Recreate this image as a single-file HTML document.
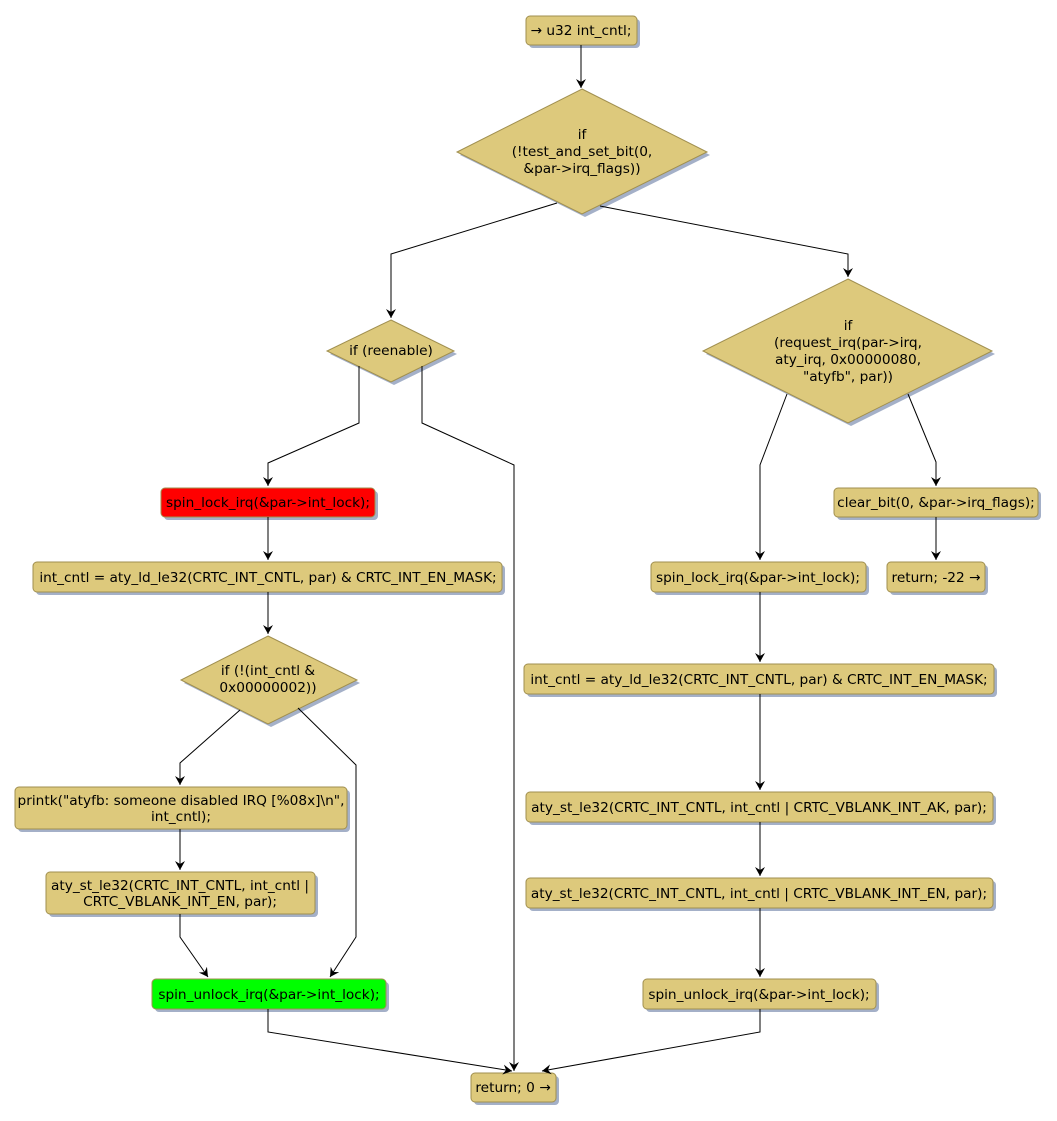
<!DOCTYPE html>
<html><head><meta charset="utf-8"><style>
body{margin:0;background:#fff;}
svg{display:block;}
text{font-family:"DejaVu Sans","Liberation Sans",sans-serif;font-size:13.7px;fill:#000;text-anchor:middle;}
.n{fill:#DDC97C;stroke:#A08F4F;stroke-width:1;}
.s{fill:#A4B0C8;}
.e{fill:none;stroke:#000;stroke-width:1;}
</style></head><body>
<svg width="1057" height="1121" viewBox="0 0 1057 1121">
<defs><marker id="a" markerWidth="10" markerHeight="10" refX="9" refY="5" orient="auto" markerUnits="userSpaceOnUse"><path d="M0,0 L9,5 L0,10 L3,5 z" fill="#000"/></marker></defs>
<g id="shadows">
<rect class="s" x="529" y="19" width="111" height="29" rx="4"/>
<polygon class="s" points="585,92 710,155 585,217 460,155"/>
<polygon class="s" points="394,323 457,354 394,385 330,354"/>
<polygon class="s" points="851,282 995,354 851,426 706,354"/>
<rect class="s" x="164" y="491" width="214" height="29" rx="4"/>
<rect class="s" x="36" y="565" width="469" height="30" rx="4"/>
<polygon class="s" points="271,639 360,683 271,727 184,683"/>
<rect class="s" x="18" y="790" width="332" height="42" rx="4"/>
<rect class="s" x="49" y="875" width="269" height="42" rx="4"/>
<rect class="s" x="155" y="982" width="234" height="30" rx="4"/>
<rect class="s" x="474" y="1076" width="85" height="29" rx="4"/>
<rect class="s" x="837" y="491" width="204" height="29" rx="4"/>
<rect class="s" x="890" y="565" width="98" height="30" rx="4"/>
<rect class="s" x="654" y="565" width="215" height="30" rx="4"/>
<rect class="s" x="527" y="667" width="470" height="30" rx="4"/>
<rect class="s" x="529" y="795" width="467" height="30" rx="4"/>
<rect class="s" x="529" y="881" width="467" height="30" rx="4"/>
<rect class="s" x="646" y="982" width="233" height="30" rx="4"/>
</g>
<g>
<rect class="n" x="526" y="16" width="111" height="29" rx="4"/>
<polygon class="n" points="582,89 707,152 582,214 457,152"/>
<polygon class="n" points="391,320 454,351 391,382 327,351"/>
<polygon class="n" points="848,279 992,351 848,423 703,351"/>
<rect x="161" y="488" width="214" height="29" rx="4" fill="#FF0000" stroke="#A08F4F"/>
<rect class="n" x="33" y="562" width="469" height="30" rx="4"/>
<polygon class="n" points="268,636 357,680 268,724 181,680"/>
<rect class="n" x="15" y="787" width="332" height="42" rx="4"/>
<rect class="n" x="46" y="872" width="269" height="42" rx="4"/>
<rect x="152" y="979" width="234" height="30" rx="4" fill="#00FF00" stroke="#A08F4F"/>
<rect class="n" x="471" y="1073" width="85" height="29" rx="4"/>
<rect class="n" x="834" y="488" width="204" height="29" rx="4"/>
<rect class="n" x="887" y="562" width="98" height="30" rx="4"/>
<rect class="n" x="651" y="562" width="215" height="30" rx="4"/>
<rect class="n" x="524" y="664" width="470" height="30" rx="4"/>
<rect class="n" x="526" y="792" width="467" height="30" rx="4"/>
<rect class="n" x="526" y="878" width="467" height="30" rx="4"/>
<rect class="n" x="643" y="979" width="233" height="30" rx="4"/>
</g>
<g>
<path class="e" d="M581,45 V88" marker-end="url(#a)"/>
<path class="e" d="M557,203 L391,254 V318" marker-end="url(#a)"/>
<path class="e" d="M600,206 L848,254 V277" marker-end="url(#a)"/>
<path class="e" d="M359,366 V423 L268,463 V486" marker-end="url(#a)"/>
<path class="e" d="M422,366 V423 L514,465 V1071" marker-end="url(#a)"/>
<path class="e" d="M268,517 V560" marker-end="url(#a)"/>
<path class="e" d="M268,592 V634" marker-end="url(#a)"/>
<path class="e" d="M240,710 L180,763 V785" marker-end="url(#a)"/>
<path class="e" d="M298,708 L356,765 V937 L330,977" marker-end="url(#a)"/>
<path class="e" d="M180,829 V870" marker-end="url(#a)"/>
<path class="e" d="M180,914 V937 L208,977" marker-end="url(#a)"/>
<path class="e" d="M268,1009 V1032 L512,1071" marker-end="url(#a)"/>
<path class="e" d="M787,394 L760,465 V560" marker-end="url(#a)"/>
<path class="e" d="M908,394 L936,462 V486" marker-end="url(#a)"/>
<path class="e" d="M936,517 V560" marker-end="url(#a)"/>
<path class="e" d="M760,592 V662" marker-end="url(#a)"/>
<path class="e" d="M760,694 V790" marker-end="url(#a)"/>
<path class="e" d="M760,822 V876" marker-end="url(#a)"/>
<path class="e" d="M760,908 V977" marker-end="url(#a)"/>
<path class="e" d="M760,1009 V1032 L542,1071" marker-end="url(#a)"/>
</g>
<g>
<text x="581" y="35">→ u32 int_cntl;</text>
<text x="582" y="139">if</text>
<text x="582" y="156">(!test_and_set_bit(0,</text>
<text x="582" y="173">&amp;par-&gt;irq_flags))</text>
<text x="391" y="355">if (reenable)</text>
<text x="848" y="330">if</text>
<text x="848" y="347">(request_irq(par-&gt;irq,</text>
<text x="848" y="364">aty_irq, 0x00000080,</text>
<text x="848" y="381">"atyfb", par))</text>
<text x="268" y="507">spin_lock_irq(&amp;par-&gt;int_lock);</text>
<text x="268" y="582">int_cntl = aty_ld_le32(CRTC_INT_CNTL, par) &amp; CRTC_INT_EN_MASK;</text>
<text x="268" y="675">if (!(int_cntl &amp;</text>
<text x="268" y="692">0x00000002))</text>
<text x="181" y="805">printk("atyfb: someone disabled IRQ [%08x]\n",</text>
<text x="181" y="821">int_cntl);</text>
<text x="180" y="890">aty_st_le32(CRTC_INT_CNTL, int_cntl |</text>
<text x="180" y="906">CRTC_VBLANK_INT_EN, par);</text>
<text x="269" y="999">spin_unlock_irq(&amp;par-&gt;int_lock);</text>
<text x="513" y="1092">return; 0 →</text>
<text x="936" y="507">clear_bit(0, &amp;par-&gt;irq_flags);</text>
<text x="936" y="582">return; -22 →</text>
<text x="758" y="582">spin_lock_irq(&amp;par-&gt;int_lock);</text>
<text x="759" y="684">int_cntl = aty_ld_le32(CRTC_INT_CNTL, par) &amp; CRTC_INT_EN_MASK;</text>
<text x="759" y="812">aty_st_le32(CRTC_INT_CNTL, int_cntl | CRTC_VBLANK_INT_AK, par);</text>
<text x="759" y="898">aty_st_le32(CRTC_INT_CNTL, int_cntl | CRTC_VBLANK_INT_EN, par);</text>
<text x="759" y="999">spin_unlock_irq(&amp;par-&gt;int_lock);</text>
</g>
</svg>
</body></html>
